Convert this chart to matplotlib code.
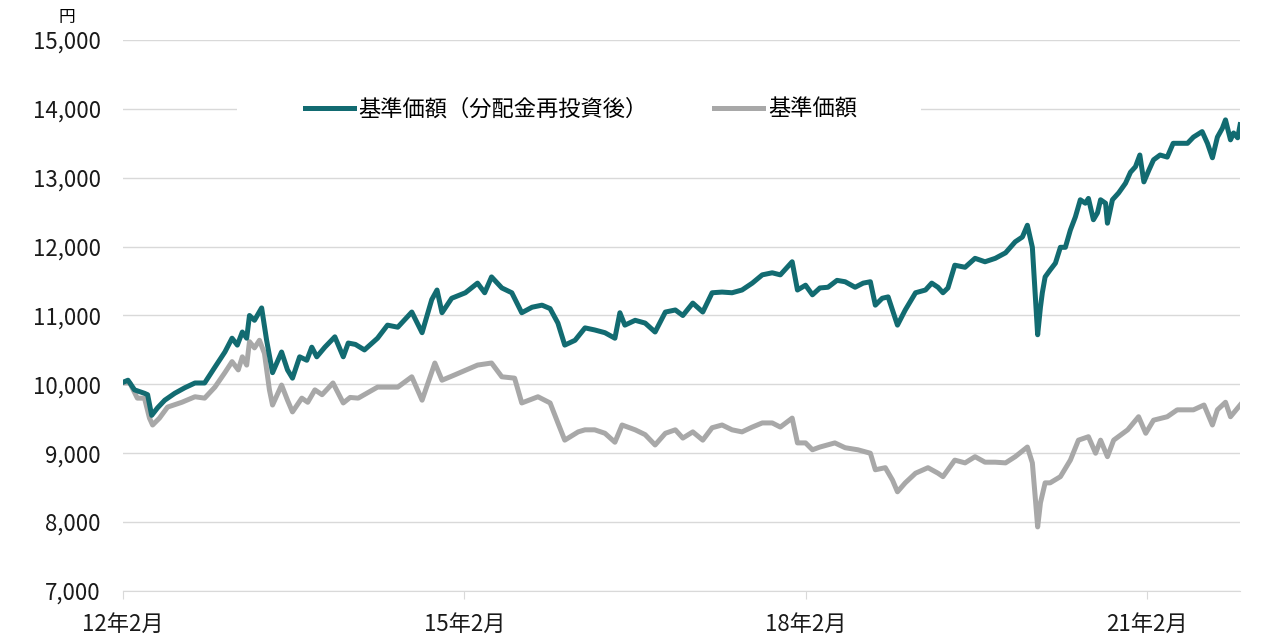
import pandas as pd
import matplotlib
matplotlib.use("Agg")
import matplotlib.pyplot as plt
from matplotlib.patches import Rectangle
from matplotlib.ticker import FuncFormatter, MultipleLocator

plt.rcParams['font.family'] = ['Noto Sans CJK JP', 'DejaVu Sans']

# 基準価額（分配金再投資後）
dates_reinvest = [
    '2012-02-01', '2012-02-17', '2012-03-09', '2012-04-10', '2012-04-20', '2012-05-03', '2012-05-22',
    '2012-06-14', '2012-07-16', '2012-08-17', '2012-09-19', '2012-10-20', '2012-11-22', '2012-12-24',
    '2013-01-16', '2013-02-02', '2013-02-18', '2013-03-04', '2013-03-13', '2013-03-29', '2013-04-21',
    '2013-05-07', '2013-05-26', '2013-06-24', '2013-07-13', '2013-07-29', '2013-08-21', '2013-09-13',
    '2013-09-29', '2013-10-15', '2013-11-10', '2013-12-12', '2014-01-08', '2014-01-24', '2014-02-16',
    '2014-03-17', '2014-04-28', '2014-05-30', '2014-07-02', '2014-08-16', '2014-09-18', '2014-10-19',
    '2014-11-05', '2014-11-21', '2014-12-22', '2015-02-04', '2015-03-15', '2015-04-07', '2015-04-29',
    '2015-06-01', '2015-07-03', '2015-08-04', '2015-09-06', '2015-10-08', '2015-11-03', '2015-11-28',
    '2015-12-20', '2016-01-22', '2016-02-23', '2016-03-25', '2016-04-27', '2016-05-29', '2016-06-14',
    '2016-06-30', '2016-08-02', '2016-09-03', '2016-10-05', '2016-11-07', '2016-12-09', '2017-01-02',
    '2017-02-03', '2017-03-07', '2017-04-06', '2017-05-08', '2017-06-09', '2017-07-11', '2017-08-13',
    '2017-09-14', '2017-10-16', '2017-11-11', '2017-12-19', '2018-01-05', '2018-01-31', '2018-02-22',
    '2018-03-18', '2018-04-13', '2018-05-12', '2018-06-07', '2018-07-09', '2018-08-04', '2018-08-27',
    '2018-09-12', '2018-10-04', '2018-10-23', '2018-11-09', '2018-11-22', '2018-12-17', '2019-01-19',
    '2019-02-20', '2019-03-12', '2019-04-01', '2019-04-17', '2019-05-03', '2019-05-25', '2019-06-27',
    '2019-07-29', '2019-08-30', '2019-10-02', '2019-11-04', '2019-12-05', '2019-12-28', '2020-01-13',
    '2020-01-29', '2020-02-08', '2020-02-15', '2020-02-24', '2020-03-01', '2020-03-10', '2020-03-26',
    '2020-04-12', '2020-04-28', '2020-05-14', '2020-05-30', '2020-06-15', '2020-07-01', '2020-07-17',
    '2020-07-27', '2020-08-12', '2020-08-25', '2020-09-04', '2020-09-20', '2020-09-26', '2020-10-12',
    '2020-11-01', '2020-11-23', '2020-12-09', '2020-12-25', '2021-01-08', '2021-01-21', '2021-02-06',
    '2021-02-21', '2021-03-14', '2021-04-06', '2021-04-25', '2021-05-18', '2021-06-10', '2021-06-29',
    '2021-07-27', '2021-08-13', '2021-08-29', '2021-09-14', '2021-09-30', '2021-10-10', '2021-10-26',
    '2021-11-05', '2021-11-18', '2021-11-26',
]
nav_reinvest = [
    10030, 10060, 9920, 9870, 9850, 9550, 9660,
    9770, 9870, 9950, 10020, 10020, 10250, 10470,
    10670, 10570, 10760, 10670, 11000, 10930, 11110,
    10640, 10170, 10470, 10210, 10090, 10400, 10350,
    10540, 10400, 10540, 10690, 10400, 10600, 10580,
    10500, 10670, 10860, 10830, 11050, 10750, 11230,
    11370, 11040, 11250, 11330, 11470, 11330, 11560,
    11400, 11330, 11040, 11120, 11150, 11100, 10890,
    10570, 10640, 10820, 10790, 10750, 10670, 11040,
    10860, 10930, 10890, 10760, 11050, 11080, 11000,
    11180, 11050, 11330, 11340, 11330, 11370, 11470,
    11590, 11620, 11590, 11780, 11370, 11440, 11300,
    11400, 11410, 11510, 11490, 11410, 11470, 11490,
    11150, 11250, 11270, 11040, 10860, 11080, 11330,
    11370, 11470, 11410, 11330, 11400, 11730, 11700,
    11830, 11780, 11830, 11910, 12070, 12140, 12310,
    11990, 11230, 10720, 11120, 11330, 11560, 11660,
    11760, 11990, 11990, 12240, 12430, 12680, 12630,
    12700, 12390, 12490, 12680, 12630, 12340, 12680,
    12780, 12920, 13080, 13160, 13330, 12940, 13110,
    13260, 13330, 13300, 13500, 13500, 13500, 13590,
    13670, 13500, 13290, 13590, 13720, 13840, 13550,
    13650, 13580, 13770,
]

# 基準価額
dates_nav = [
    '2012-02-01', '2012-02-23', '2012-03-18', '2012-04-10', '2012-04-26', '2012-05-06', '2012-05-28',
    '2012-06-23', '2012-08-08', '2012-09-19', '2012-10-20', '2012-11-22', '2012-12-24', '2013-01-16',
    '2013-02-05', '2013-02-18', '2013-03-04', '2013-03-13', '2013-03-29', '2013-04-14', '2013-04-30',
    '2013-05-16', '2013-05-26', '2013-06-24', '2013-07-13', '2013-07-29', '2013-08-28', '2013-09-16',
    '2013-10-09', '2013-11-01', '2013-12-06', '2014-01-08', '2014-01-30', '2014-02-25', '2014-04-28',
    '2014-07-02', '2014-08-16', '2014-09-18', '2014-10-29', '2014-11-21', '2015-01-02', '2015-03-15',
    '2015-04-29', '2015-06-01', '2015-07-12', '2015-08-04', '2015-09-25', '2015-11-03', '2015-11-28',
    '2015-12-20', '2016-02-01', '2016-02-23', '2016-03-25', '2016-04-27', '2016-05-29', '2016-06-21',
    '2016-08-02', '2016-09-03', '2016-10-05', '2016-11-07', '2016-12-09', '2017-01-02', '2017-02-03',
    '2017-03-07', '2017-04-06', '2017-05-08', '2017-06-09', '2017-07-11', '2017-08-13', '2017-09-14',
    '2017-10-16', '2017-11-11', '2017-12-19', '2018-01-05', '2018-01-31', '2018-02-22', '2018-03-18',
    '2018-05-05', '2018-06-07', '2018-07-18', '2018-08-27', '2018-09-12', '2018-10-14', '2018-11-06',
    '2018-11-22', '2018-12-17', '2019-01-19', '2019-02-28', '2019-04-01', '2019-04-17', '2019-05-25',
    '2019-06-27', '2019-07-29', '2019-08-30', '2019-10-02', '2019-11-04', '2019-12-05', '2020-01-13',
    '2020-01-29', '2020-02-08', '2020-02-15', '2020-02-24', '2020-03-10', '2020-03-26', '2020-04-28',
    '2020-05-30', '2020-06-25', '2020-07-27', '2020-08-19', '2020-09-04', '2020-09-26', '2020-10-16',
    '2020-11-30', '2021-01-04', '2021-01-27', '2021-02-21', '2021-04-06', '2021-05-08', '2021-06-29',
    '2021-08-02', '2021-08-29', '2021-09-14', '2021-10-10', '2021-10-26', '2021-11-26',
]
nav = [
    10020, 10020, 9800, 9800, 9510, 9410, 9510,
    9670, 9740, 9820, 9800, 9960, 10170, 10330,
    10210, 10400, 10280, 10620, 10530, 10640, 10450,
    9920, 9700, 9990, 9770, 9600, 9800, 9740,
    9920, 9850, 10020, 9730, 9810, 9800, 9960,
    9960, 10110, 9770, 10310, 10060, 10140, 10280,
    10310, 10110, 10090, 9730, 9820, 9730, 9440,
    9190, 9310, 9340, 9340, 9290, 9160, 9410,
    9340, 9270, 9120, 9290, 9340, 9220, 9310,
    9190, 9370, 9410, 9340, 9310, 9380, 9440,
    9440, 9380, 9510, 9150, 9150, 9050, 9090,
    9150, 9080, 9050, 9000, 8760, 8790, 8610,
    8440, 8570, 8710, 8790, 8710, 8660, 8900,
    8860, 8950, 8870, 8870, 8860, 8950, 9090,
    8860, 8320, 7930, 8280, 8570, 8570, 8660,
    8900, 9190, 9240, 9000, 9190, 8950, 9190,
    9340, 9530, 9290, 9480, 9530, 9630, 9630,
    9700, 9410, 9630, 9740, 9530, 9700,
]

tick_dates = ['2012-02-01', '2015-02-01', '2018-02-01', '2021-02-01']
tick_labels = ['12年2月', '15年2月', '18年2月', '21年2月']

teal = '#126b71'
grey = '#a8a8a8'
gridc = '#d9d9d9'

fig = plt.figure(figsize=(12.76, 6.43), dpi=100)
ax = fig.add_axes([0.0964, 0.0809, 0.8755, 0.8569])

ax.plot(pd.to_datetime(dates_nav), nav, color=grey, lw=3.6, zorder=3,
        solid_joinstyle='round', label='基準価額')
ax.plot(pd.to_datetime(dates_reinvest), nav_reinvest, color=teal, lw=3.6, zorder=4,
        solid_joinstyle='round', label='基準価額（分配金再投資後）')

ax.set_xlim(pd.Timestamp('2012-02-01'), pd.Timestamp('2021-11-26'))
ax.set_ylim(7000, 15000)
ax.yaxis.set_major_locator(MultipleLocator(1000))
ax.yaxis.set_major_formatter(FuncFormatter(lambda v, p: f'{int(v):,}'))
ax.set_xticks(pd.to_datetime(tick_dates))
ax.set_xticklabels(tick_labels)

ax.grid(axis='y', color=gridc, lw=1)
ax.set_axisbelow(True)
for s in ['top', 'right', 'left']:
    ax.spines[s].set_visible(False)
ax.spines['bottom'].set_color(gridc)
ax.tick_params(axis='y', length=0, pad=16, labelsize=16, labelcolor='#1a1a1a')
ax.tick_params(axis='x', length=6, color=gridc, pad=10, labelsize=16, labelcolor='#1a1a1a')

# white band behind the legend, breaking the 14,000 gridline
ax.add_patch(Rectangle((0.102, 0.86), 0.612, 0.05, transform=ax.transAxes,
                       facecolor='white', edgecolor='none', zorder=1.5))

handles, labels = ax.get_legend_handles_labels()
ax.legend(handles[::-1], labels[::-1], loc='center', bbox_to_anchor=(0.41, 0.875),
          ncol=2, frameon=False, fontsize=16, handlelength=2.2, handletextpad=0.2,
          columnspacing=3.0)

ax.text(-0.05, 1.025, '円', transform=ax.transAxes, fontsize=12, ha='center', va='bottom')

fig.savefig('out.png', dpi=100)
